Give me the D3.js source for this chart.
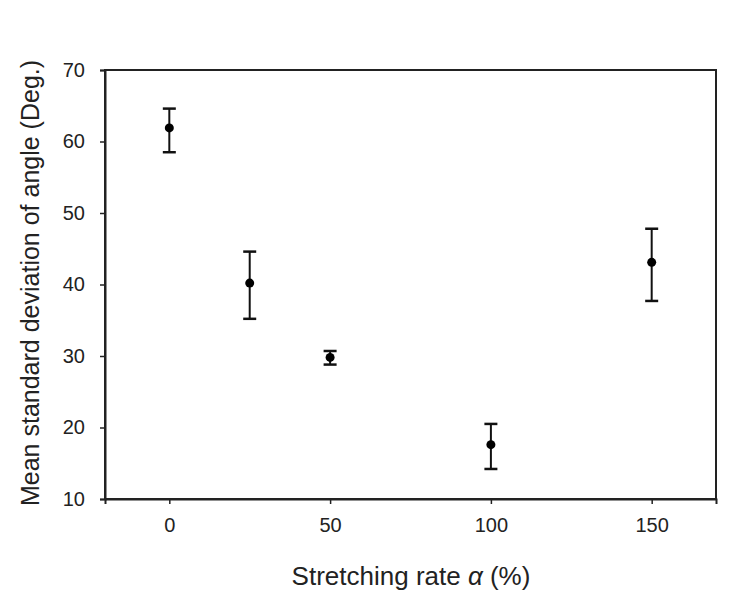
<!DOCTYPE html>
<html><head><meta charset="utf-8">
<script src="https://cdn.jsdelivr.net/npm/d3@7"></script>
<style>body{margin:0;background:#fff}svg{display:block}text{font-family:"Liberation Sans",Arial,sans-serif;fill:#222}</style>
</head><body>
<script>
const rates = [0, 25, 50, 100, 150];
const means = [61.9, 40.2, 29.8, 17.6, 43.1];
const upper = [64.6, 44.6, 30.7, 20.5, 47.8];
const lower = [58.5, 35.2, 28.8, 14.2, 37.7];
const xTicks = [0, 50, 100, 150];
const yTicks = [10, 20, 30, 40, 50, 60, 70];

const W = 736, H = 593;
const m = {l:105, r:20, t:70, b:94};
const svg = d3.select("body").append("svg").attr("width", W).attr("height", H);
const x = d3.scaleLinear().domain([-20, 170]).range([m.l, W - m.r]);
const y = d3.scaleLinear().domain([10, 70]).range([H - m.b, m.t]);

// frame
svg.append("rect").attr("x", m.l).attr("y", m.t)
  .attr("width", W - m.r - m.l).attr("height", H - m.b - m.t)
  .attr("fill", "none").attr("stroke", "#222").attr("stroke-width", 2);

const xa = svg.append("g").attr("transform", `translate(0,${H - m.b})`)
  .call(d3.axisBottom(x).tickValues(xTicks).tickSize(5).tickPadding(14).tickFormat(d3.format("d")));
const ya = svg.append("g").attr("transform", `translate(${m.l},0)`)
  .call(d3.axisLeft(y).tickValues(yTicks).tickSize(5).tickPadding(15).tickFormat(d3.format("d")));
[xa, ya].forEach(a => {
  a.select(".domain").attr("stroke", "#222").attr("stroke-width", 2);
  a.selectAll(".tick line").attr("stroke", "#222").attr("stroke-width", 1.5);
  a.selectAll("text").style("font-size", "20px").attr("fill", "#333");
});

// error bars
const g = svg.append("g");
const cap = 6.5;
rates.forEach((r, i) => {
  const cx = x(r);
  g.append("line").attr("x1", cx).attr("x2", cx).attr("y1", y(upper[i])).attr("y2", y(lower[i]))
    .attr("stroke", "#111").attr("stroke-width", 2);
  [upper[i], lower[i]].forEach(v => {
    g.append("line").attr("x1", cx - cap).attr("x2", cx + cap).attr("y1", y(v)).attr("y2", y(v))
      .attr("stroke", "#111").attr("stroke-width", 2.5);
  });
  g.append("circle").attr("cx", cx).attr("cy", y(means[i])).attr("r", 4.5).attr("fill", "#000");
});

// axis titles
const xt = svg.append("text").attr("x", 411).attr("y", 585)
  .attr("text-anchor", "middle").style("font-size", "26px").attr("fill", "#333");
xt.append("tspan").text("Stretching rate ");
xt.append("tspan").attr("font-style", "italic").text("α");
xt.append("tspan").text(" (%)");

svg.append("text").attr("transform", `translate(39,283) rotate(-90)`)
  .attr("text-anchor", "middle").style("font-size", "25px").attr("fill", "#333")
  .text("Mean standard deviation of angle (Deg.)");
</script>
</body></html>
